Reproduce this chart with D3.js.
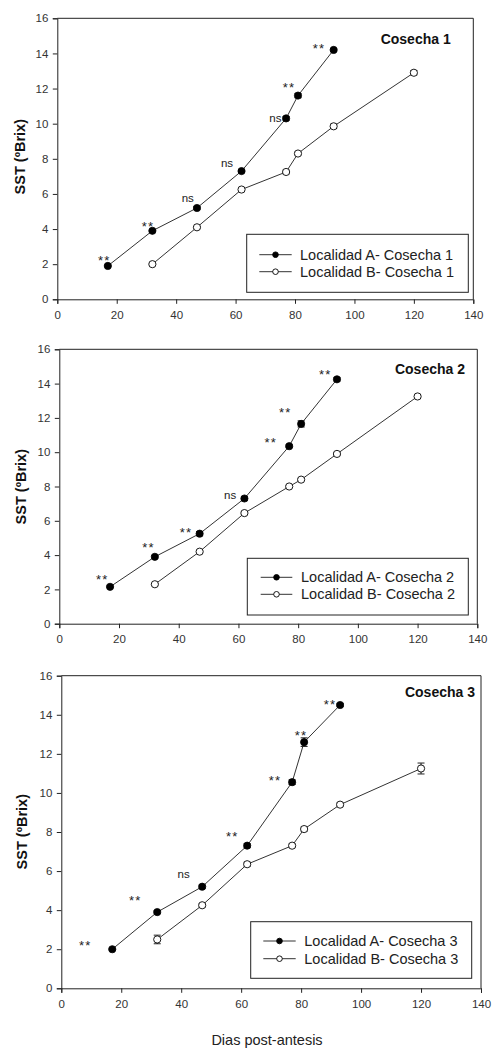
<!DOCTYPE html>
<html><head><meta charset="utf-8">
<script src="https://cdn.jsdelivr.net/npm/d3@7"></script>
<style>
html,body{margin:0;padding:0;background:#fff;}
svg{display:block;font-family:Arial,"Liberation Sans",sans-serif;}
</style></head>
<body>
<svg id="c" width="494" height="1049"></svg>
<script>
// ---------- data ----------
const xTicks = [0, 20, 40, 60, 80, 100, 120, 140];
const yTicks = [0, 2, 4, 6, 8, 10, 12, 14, 16];
const daysA = [17, 32, 47, 62, 77, 81, 93];
const daysB = [32, 47, 62, 77, 81, 93, 120];
const harvests = ["Cosecha 1", "Cosecha 2", "Cosecha 3"];

const sstA1 = [1.9, 3.9, 5.2, 7.3, 10.3, 11.6, 14.2];
const sstB1 = [2.0, 4.1, 6.25, 7.25, 8.3, 9.85, 12.9];
const errA1 = [0.05, 0.05, 0.08, 0.08, 0.1, 0.12, 0.08];
const errB1 = [0.05, 0.05, 0.06, 0.1, 0.08, 0.12, 0.12];

const sstA2 = [2.15, 3.9, 5.25, 7.3, 10.35, 11.65, 14.25];
const sstB2 = [2.3, 4.2, 6.45, 8.0, 8.4, 9.9, 13.25];
const errA2 = [0.05, 0.08, 0.12, 0.1, 0.08, 0.18, 0.1];
const errB2 = [0.05, 0.06, 0.08, 0.06, 0.06, 0.08, 0.08];

const sstA3 = [2.0, 3.9, 5.2, 7.3, 10.55, 12.6, 14.5];
const sstB3 = [2.5, 4.25, 6.35, 7.3, 8.15, 9.4, 11.25];
const errA3 = [0.05, 0.08, 0.08, 0.1, 0.12, 0.22, 0.08];
const errB3 = [0.22, 0.08, 0.1, 0.08, 0.1, 0.08, 0.28];

// significance labels: [label, x (days), y (ºBrix) of label centre]
const sig1 = [["**",15.8,2.39],["**",30.5,4.33],["ns",43.9,5.73],["ns",57.1,7.69],["ns",73.4,10.25],["**",78.0,12.26],["**",88.1,14.46]];
const sig2 = [["**",14.4,2.78],["**",29.9,4.61],["**",42.4,5.50],["ns",57.2,7.46],["**",70.8,10.77],["**",75.7,12.48],["**",89.1,14.68]];
const sig3 = [["**",8.0,2.33],["**",24.7,4.66],["ns",40.8,5.80],["**",57.0,7.95],["**",71.3,10.80],["**",80.0,13.08],["**",89.6,14.69]];

const legendA = ["Localidad A- Cosecha 1", "Localidad A- Cosecha 2", "Localidad A- Cosecha 3"];
const legendB = ["Localidad B- Cosecha 1", "Localidad B- Cosecha 2", "Localidad B- Cosecha 3"];
const yLabel = "SST (ºBrix)";
const xLabel = "Dias post-antesis";

// ---------- layout ----------
const panels = [
  {A:sstA1,B:sstB1,eA:errA1,eB:errB1,sig:sig1,l:57.3,r:473.3,t:18.3,b:299.3,
   title:[450.7,39.3], leg:[246.7,234.3,468.3,292.3], rows:[254.7,271.7], lx:[259.3,291.7], tx:300, yl:[20,156.7]},
  {A:sstA2,B:sstB2,eA:errA2,eB:errB2,sig:sig2,l:59.3,r:477.3,t:349.3,b:623.7,
   title:[465,369.3], leg:[247.3,558.3,468.3,615], rows:[577.3,594.3], lx:[260.7,292.3], tx:301, yl:[21,486.7]},
  {A:sstA3,B:sstB3,eA:errA3,eB:errB3,sig:sig3,l:61.3,r:481,t:675.7,b:988.3,
   title:[475,691.7], leg:[250.7,921.7,471.7,978.3], rows:[941,958.7], lx:[263.3,295.7], tx:304.3, yl:[21.7,831.7]}
];

const svg = d3.select("#c");
const ink = "#222";
const lineCol = "#333";

panels.forEach((p, i) => {
  const x = d3.scaleLinear().domain([0, 140]).range([p.l, p.r]);
  const y = d3.scaleLinear().domain([0, 16]).range([p.b, p.t]);
  const g = svg.append("g");

  // frame top & right
  g.append("line").attr("x1", p.l).attr("x2", p.r).attr("y1", p.t).attr("y2", p.t).attr("stroke", ink).attr("stroke-width", 1);
  g.append("line").attr("x1", p.r).attr("x2", p.r).attr("y1", p.t).attr("y2", p.b).attr("stroke", ink).attr("stroke-width", 1);

  const ax = g.append("g").attr("transform", `translate(0,${p.b})`)
    .call(d3.axisBottom(x).tickValues(xTicks).tickSize(4.5).tickPadding(7).tickFormat(d3.format("d")));
  const ay = g.append("g").attr("transform", `translate(${p.l},0)`)
    .call(d3.axisLeft(y).tickValues(yTicks).tickSize(4.5).tickPadding(4.5).tickFormat(d3.format("d")));
  [ax, ay].forEach(a => {
    a.select(".domain").attr("stroke", ink);
    a.selectAll(".tick line").attr("stroke", ink);
    a.selectAll("text").attr("font-size", 11.5).attr("fill", "#333").attr("font-family", "Arial, 'Liberation Sans', sans-serif");
  });

  const line = d3.line().x(d => x(d[0])).y(d => y(d[1]));
  const ptsA = daysA.map((d, k) => [d, p.A[k], p.eA[k]]);
  const ptsB = daysB.map((d, k) => [d, p.B[k], p.eB[k]]);

  [ptsA, ptsB].forEach(pts => {
    g.append("path").attr("d", line(pts)).attr("fill", "none").attr("stroke", lineCol).attr("stroke-width", 1);
  });

  // error bars
  [ptsA, ptsB].forEach(pts => {
    pts.forEach(d => {
      const y1 = y(d[1] + d[2]), y2 = y(d[1] - d[2]);
      g.append("line").attr("x1", x(d[0])).attr("x2", x(d[0])).attr("y1", y1).attr("y2", y2).attr("stroke", ink);
      [y1, y2].forEach(yy => g.append("line").attr("x1", x(d[0]) - 3.5).attr("x2", x(d[0]) + 3.5).attr("y1", yy).attr("y2", yy).attr("stroke", ink));
    });
  });

  g.selectAll(".mA").data(ptsA).join("circle")
    .attr("cx", d => x(d[0])).attr("cy", d => y(d[1])).attr("r", 3.6)
    .attr("fill", "#000").attr("stroke", "#000").attr("stroke-width", 0.8);
  g.selectAll(".mB").data(ptsB).join("circle")
    .attr("cx", d => x(d[0])).attr("cy", d => y(d[1])).attr("r", 3.6)
    .attr("fill", "#fff").attr("stroke", "#000").attr("stroke-width", 0.9);

  // significance labels
  p.sig.forEach(s => {
    const fs = s[0] === "**" ? 13 : 11.5;
    const off = s[0] === "**" ? 0.58 * fs : 0.27 * fs;
    g.append("text").attr("x", x(s[1])).attr("y", y(s[2]) + off)
      .attr("text-anchor", "middle").attr("font-size", fs).attr("fill", "#222")
      .attr("letter-spacing", s[0] === "**" ? 1.2 : 0)
      .text(s[0]);
  });

  // panel title
  g.append("text").attr("x", p.title[0]).attr("y", p.title[1] + 5)
    .attr("text-anchor", "end").attr("font-size", 14).attr("font-weight", "bold").attr("fill", "#111")
    .text(harvests[i]);

  // legend
  const [bx1, by1, bx2, by2] = p.leg;
  g.append("rect").attr("x", bx1).attr("y", by1).attr("width", bx2 - bx1).attr("height", by2 - by1)
    .attr("fill", "#fff").attr("stroke", ink).attr("stroke-width", 1);
  [[legendA[i], "#000"], [legendB[i], "#fff"]].forEach((e, k) => {
    const ry = p.rows[k];
    g.append("line").attr("x1", p.lx[0]).attr("x2", p.lx[1]).attr("y1", ry).attr("y2", ry).attr("stroke", lineCol);
    g.append("circle").attr("cx", (p.lx[0] + p.lx[1]) / 2).attr("cy", ry).attr("r", 2.8)
      .attr("fill", e[1]).attr("stroke", "#000").attr("stroke-width", 0.9);
    g.append("text").attr("x", p.tx).attr("y", ry + 5).attr("font-size", 14.5).attr("fill", "#222").text(e[0]);
  });

  // y label
  g.append("text").attr("transform", `translate(${p.yl[0] + 5},${p.yl[1]}) rotate(-90)`)
    .attr("text-anchor", "middle").attr("font-size", 14.5).attr("font-weight", "bold").attr("fill", "#111")
    .text(yLabel);
});

svg.append("text").attr("x", 267).attr("y", 1045).attr("text-anchor", "middle")
  .attr("font-size", 14.5).attr("fill", "#222").text(xLabel);
</script>
</body></html>
